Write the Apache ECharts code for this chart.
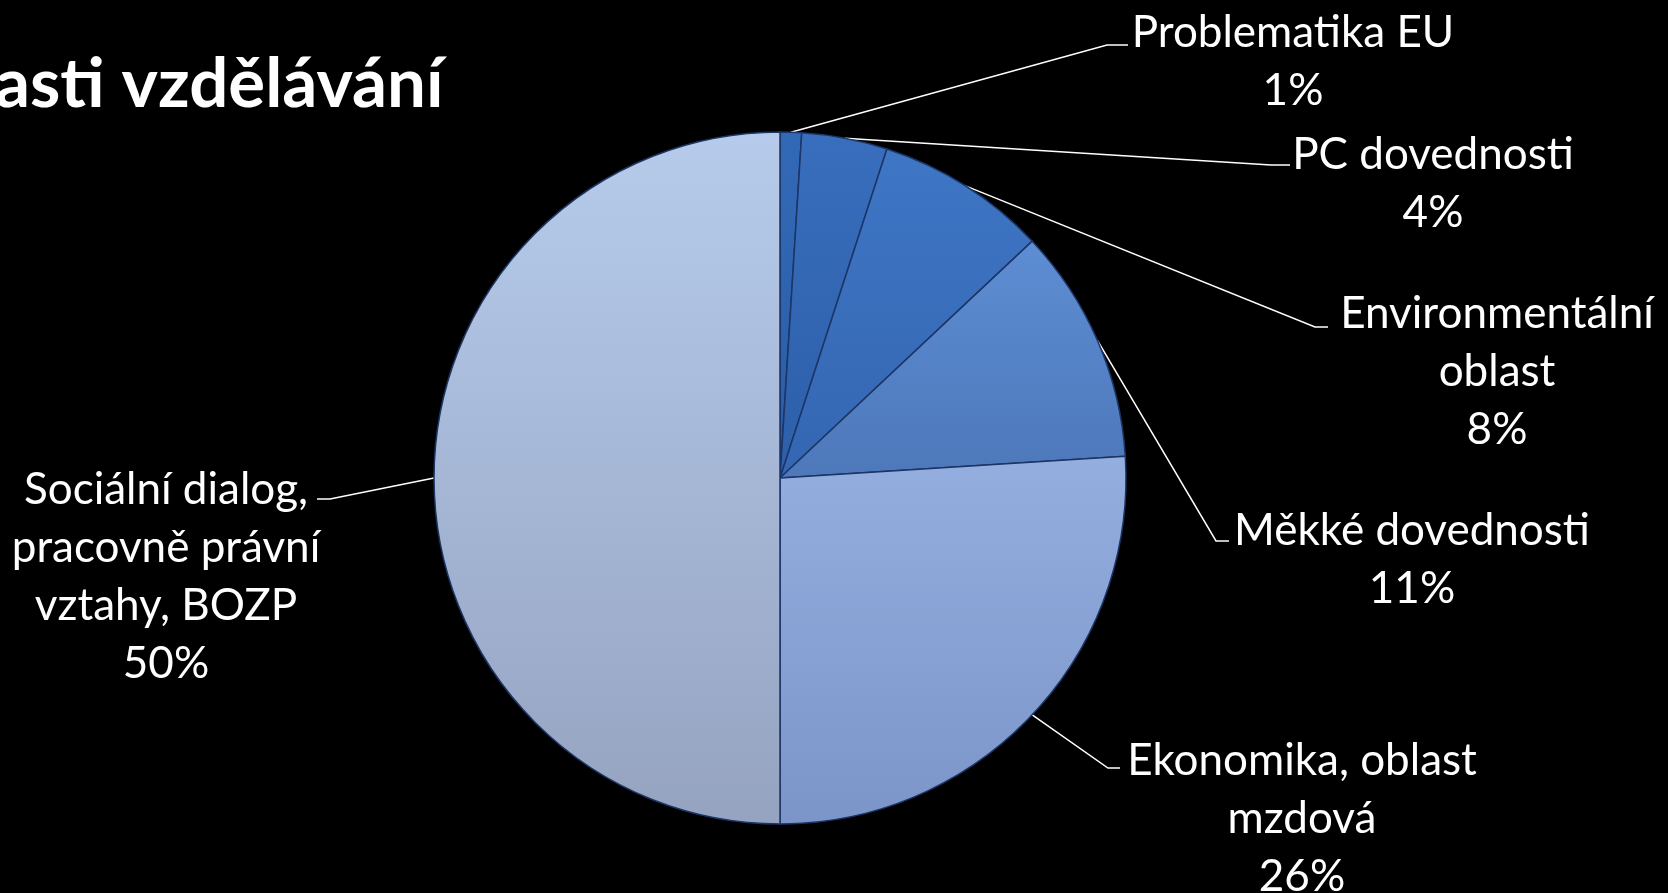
<!DOCTYPE html>
<html>
<head>
<meta charset="utf-8">
<script src="https://cdn.jsdelivr.net/npm/echarts@6/dist/echarts.min.js"></script>
<style>
html,body{margin:0;padding:0;background:#000;}
#chart{width:1668px;height:893px;}
</style>
</head>
<body>
<div id="chart"></div>
<script>
// ---- data ----
var categories = [
  'Problematika EU',
  'PC dovednosti',
  'Environmentální\noblast',
  'Měkké dovednosti',
  'Ekonomika, oblast\nmzdová',
  'Sociální dialog,\npracovně právní\nvztahy, BOZP'
];
var values = [1, 4, 8, 11, 26, 50];
var titleText = 'asti vzdělávání';

// ---- styles ----
var sliceColors = [
  ['#3269b6', '#2a5ca6'],
  ['#386ebd', '#2d5fa9'],
  ['#3e76c5', '#3466b2'],
  ['#5d8dd3', '#4d78ba'],
  ['#94aee0', '#7c95c8'],
  ['#b6cbeb', '#95a3c0']
];
// label anchors: [textCenterX, textTopY, bendX, bendY, endX]
var anchors = [
  [1293, 4, 1107, 45, 1128],
  [1433, 126, 1271, 165, 1290],
  [1497, 285, 1315, 327, 1328],
  [1412, 502, 1216, 541, 1229],
  [1302, 732, 1108, 768, 1120],
  [166, 461, 330, 499, 317]
];
var cx = 780, cy = 478, R = 346;
var total = values.reduce(function (a, b) { return a + b; }, 0);

var chart = echarts.init(document.getElementById('chart'), null, {renderer: 'canvas'});

var seriesData = categories.map(function (name, i) {
  return {
    name: name,
    value: values[i],
    itemStyle: {
      color: new echarts.graphic.LinearGradient(0, 0, 0, 1, [
        {offset: 0, color: sliceColors[i][0]},
        {offset: 1, color: sliceColors[i][1]}
      ])
    }
  };
});

function edgePoint(idx) {
  var cum = 0;
  for (var k = 0; k < idx; k++) cum += values[k];
  var mid = (cum + values[idx] / 2) / total * Math.PI * 2;
  return [cx + R * Math.sin(mid), cy - R * Math.cos(mid)];
}

chart.setOption({
  backgroundColor: '#000000',
  animation: false,
  graphic: [{
    type: 'text',
    left: -5,
    top: 50,
    style: {
      text: titleText,
      fill: '#ffffff',
      font: 'bold 69px Lato'
    }
  }],
  series: [{
    type: 'pie',
    center: [cx, cy],
    radius: R,
    startAngle: 90,
    clockwise: true,
    avoidLabelOverlap: false,
    data: seriesData,
    itemStyle: {
      borderColor: '#1c3566',
      borderWidth: 1.5
    },
    label: {
      show: true,
      formatter: '{b}\n{d}%',
      color: '#ffffff',
      fontFamily: 'Lato',
      fontSize: 44,
      lineHeight: 58,
      align: 'center'
    },
    labelLine: {
      show: true,
      lineStyle: {color: '#ffffff', width: 1.5}
    },
    labelLayout: function (params) {
      var i = params.dataIndex;
      var a = anchors[i];
      var start = edgePoint(i);
      return {
        x: a[0],
        y: a[1],
        align: 'center',
        verticalAlign: 'top',
        labelLinePoints: [start, [a[2], a[3]], [a[4], a[3]]]
      };
    },
    emphasis: {disabled: true}
  }]
});
</script>
</body>
</html>
